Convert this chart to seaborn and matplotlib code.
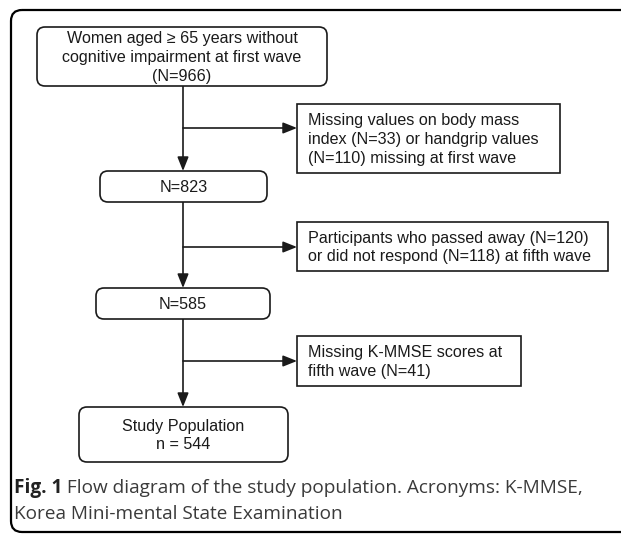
import matplotlib
matplotlib.use("Agg")
import matplotlib.pyplot as plt
from matplotlib.patches import FancyBboxPatch
import seaborn as sns

# ─────────────────────────────────────────────
# DATA
# ─────────────────────────────────────────────
main_counts = [966, 823, 585]
final_n = 544
bmi_missing, grip_missing = 33, 110
passed_away, no_response = 120, 118
kmmse_missing = 41

main_labels = [
    f"Women aged \u2265 65 years without\ncognitive impairment at first wave\n(N={main_counts[0]})",
    f"N={main_counts[1]}",
    f"N={main_counts[2]}",
    f"Study Population\nn = {final_n}",
]
excl_labels = [
    f"Missing values on body mass\nindex (N={bmi_missing}) or handgrip values\n(N={grip_missing}) missing at first wave",
    f"Participants who passed away (N={passed_away})\nor did not respond (N={no_response}) at fifth wave",
    f"Missing K-MMSE scores at\nfifth wave (N={kmmse_missing})",
]
caption_bold = "Fig. 1"
caption_rest = " Flow diagram of the study population. Acronyms: K-MMSE,"
caption_line2 = "Korea Mini-mental State Examination"

# ─────────────────────────────────────────────
# LAYOUT (pixel coords, y down)
# ─────────────────────────────────────────────
main_boxes = [(37, 27, 327, 86), (100, 171, 267, 202),
              (96, 288, 270, 319), (79, 407, 288, 462)]
excl_boxes = [(297, 104, 560, 173), (297, 222, 608, 271), (297, 336, 521, 386)]
branch_y = [128, 247, 361]
stem_x = 183

sns.set_style("white")
plt.rcParams["font.family"] = ["Liberation Sans", "DejaVu Sans"]

fig = plt.figure(figsize=(6.21, 5.34), dpi=100)
ax = fig.add_axes([0, 0, 1, 1])
ax.set_xlim(0, 621)
ax.set_ylim(534, 0)
ax.set_axis_off()

# outer frame
ax.add_patch(FancyBboxPatch((11, 10), 700, 522,
                            boxstyle="round,pad=0,rounding_size=11",
                            fc="none", ec="black", lw=1.6))

def box(x0, y0, x1, y1, rounded):
    style = "round,pad=0,rounding_size=8" if rounded else "square,pad=0"
    ax.add_patch(FancyBboxPatch((x0, y0), x1 - x0, y1 - y0, boxstyle=style,
                                fc="white", ec="#1a1a1a", lw=1.2, zorder=3))

box_fs = 11.6
for (x0, y0, x1, y1), lab in zip(main_boxes, main_labels):
    box(x0, y0, x1, y1, True)
    ax.text((x0 + x1) / 2, (y0 + y1) / 2 + 1, lab, ha="center", va="center",
            fontsize=box_fs, color="#1a1a1a", linespacing=1.33, zorder=4)

for (x0, y0, x1, y1), lab in zip(excl_boxes, excl_labels):
    box(x0, y0, x1, y1, False)
    ax.text(x0 + 11, (y0 + y1) / 2 + 1, lab, ha="left", va="center",
            fontsize=box_fs, color="#1a1a1a", linespacing=1.33, zorder=4)

arrow = dict(arrowstyle="-|>,head_length=0.7,head_width=0.28", color="#1a1a1a",
             lw=1.2, shrinkA=0, shrinkB=0, mutation_scale=12)

# vertical arrows between main boxes
for upper, lower in zip(main_boxes[:-1], main_boxes[1:]):
    ax.annotate("", xy=(stem_x, lower[1]), xytext=(stem_x, upper[3]),
                arrowprops=arrow, zorder=2)

# branch arrows to exclusion boxes
for y, eb in zip(branch_y, excl_boxes):
    ax.annotate("", xy=(eb[0], y), xytext=(stem_x, y), arrowprops=arrow, zorder=2)

# caption
cap_font = ["Open Sans", "DejaVu Sans"]
cap_fs = 13.7
t = ax.text(14, 488, caption_bold, ha="left", va="center", fontsize=cap_fs,
            fontweight="bold", color="#222222", family=cap_font)
fig.canvas.draw()
bb = t.get_window_extent()
x_after = ax.transData.inverted().transform((bb.x1, bb.y0))[0]
ax.text(x_after, 488, caption_rest, ha="left", va="center", fontsize=cap_fs,
        color="#3a3a3a", family=cap_font)
ax.text(14, 514, caption_line2, ha="left", va="center", fontsize=cap_fs,
        color="#3a3a3a", family=cap_font)

plt.savefig("out.png", dpi=100)
plt.close()
